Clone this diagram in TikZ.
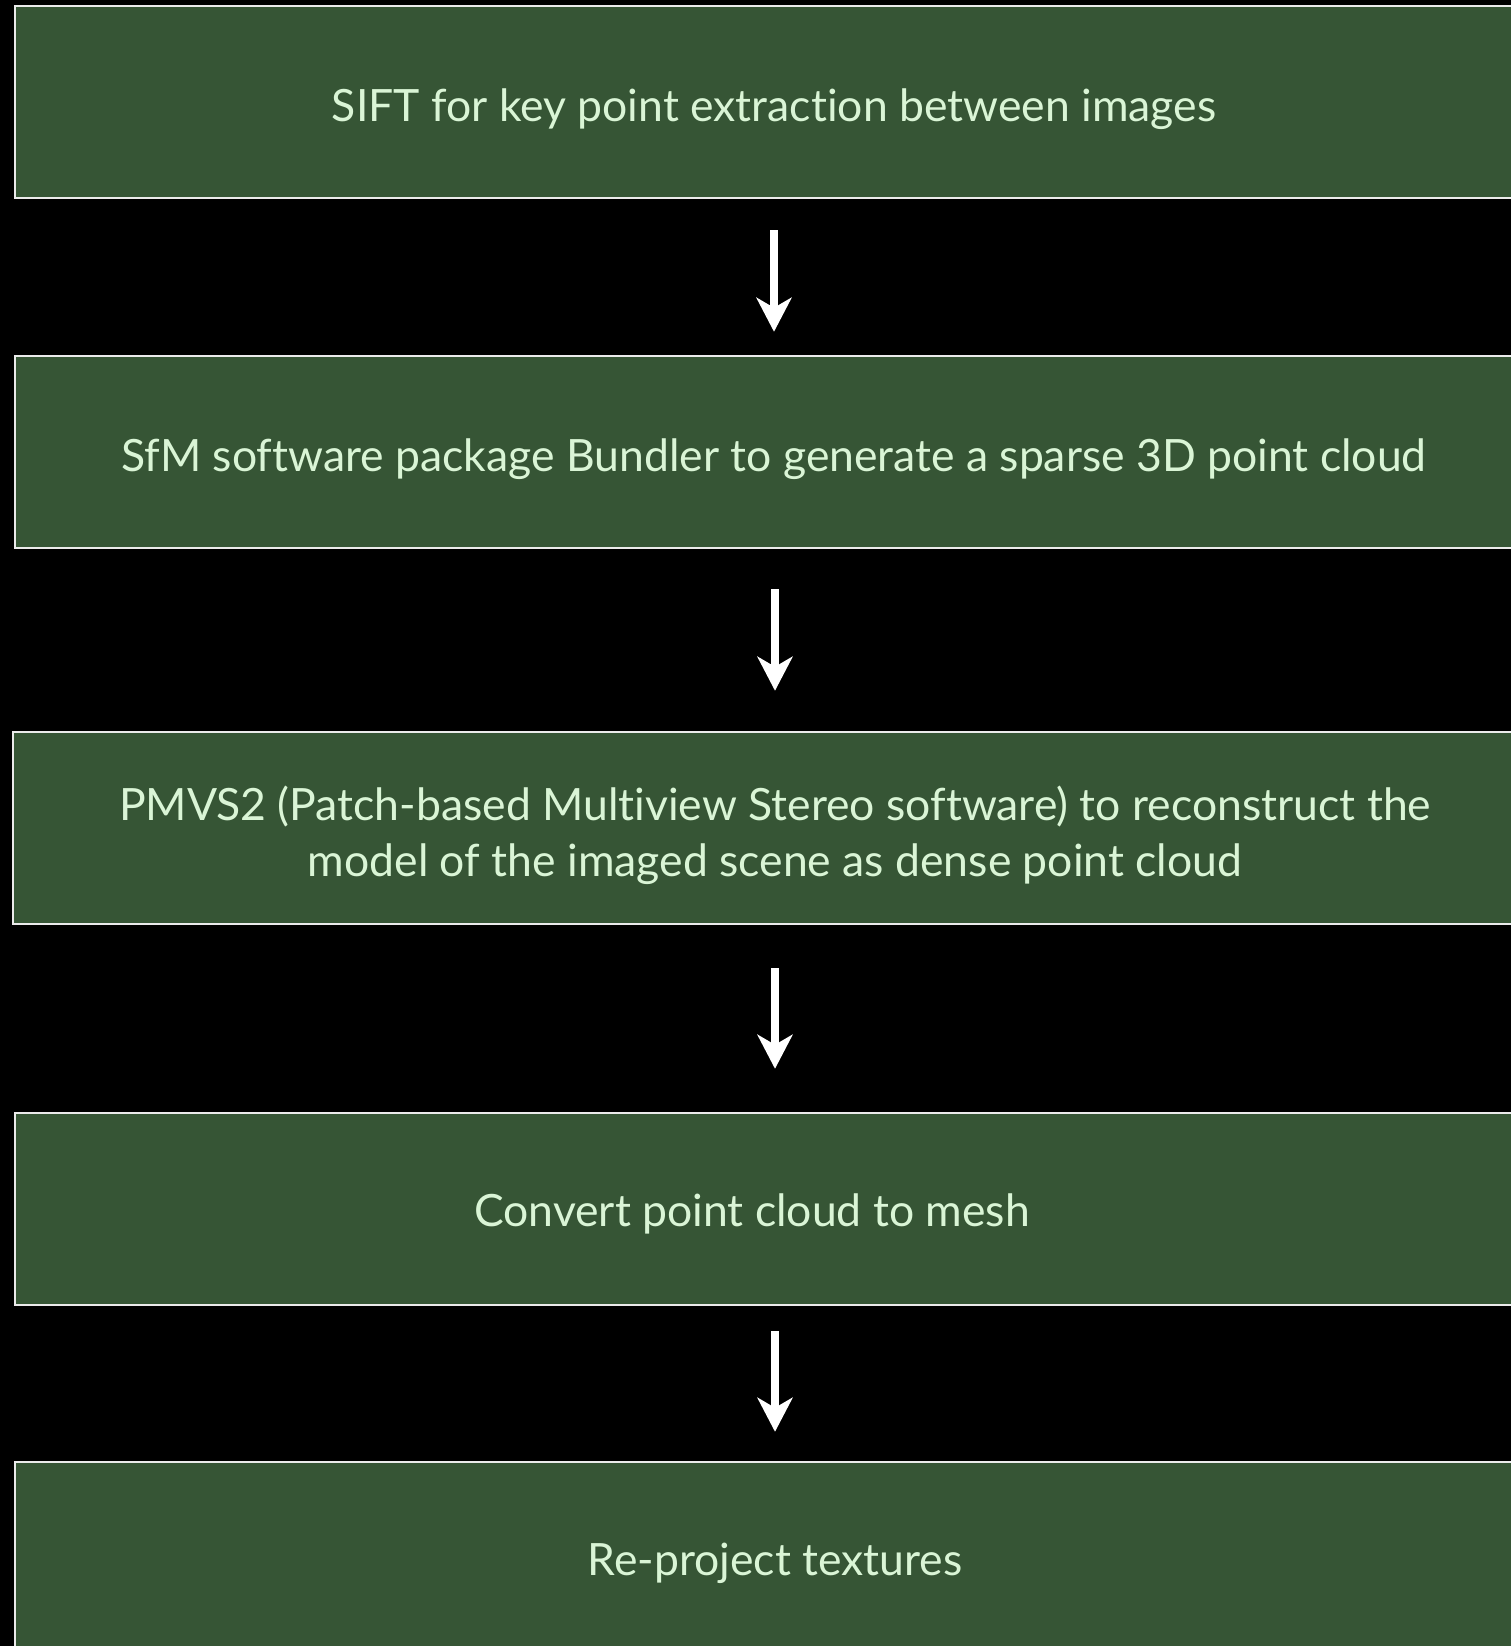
\documentclass[tikz,border=0pt]{standalone}
\usepackage{fontspec}
\setmainfont[Ligatures=NoCommon]{Lato}
\usetikzlibrary{arrows.meta}
\definecolor{boxgreen}{RGB}{54,85,53}
\definecolor{txtgreen}{RGB}{218,245,214}
\definecolor{edgewhite}{RGB}{235,235,235}
\tikzset{
  stepbox/.style={rectangle, draw=edgewhite, line width=2.5pt, fill=boxgreen,
    minimum width=1526pt, minimum height=192pt, inner sep=0pt},
  steptext/.style={text=txtgreen, font=\fontsize{44.5}{56}\selectfont, align=center, inner sep=0pt},
  flow/.style={draw=white, line width=8pt, -{Stealth[width=35pt,length=34pt,inset=10pt]}}
}
\begin{document}
\begin{tikzpicture}[x=1pt,y=-1pt]
\useasboundingbox (0,0) rectangle (1511,1646);
\clip (0,0) rectangle (1511,1646);
\fill[black] (0,0) rectangle (1511,1646);
\node[stepbox] (b1) at (778,102) {};
\node[stepbox] (b2) at (778,452) {};
\node[stepbox] (b3) at (776,828) {};
\node[stepbox] (b4) at (778,1209) {};
\node[stepbox] (b5) at (778,1558) {};
\node[steptext] (t1) at (774,109) {SIFT for key point extraction between images};
\node[steptext] (t2) at (774,459) {SfM software package Bundler to generate a sparse 3D point cloud};
\node[steptext] (t3) at (775,835) {PMVS2 (Patch-based Multiview Stereo software) to reconstruct the\\model of the imaged scene as dense point cloud};
\node[steptext] (t4) at (752,1214) {Convert point cloud to mesh};
\node[steptext] (t5) at (775,1563) {Re-project textures};
\draw[flow, shorten <=31pt, shorten >=23pt] ([xshift=-4pt]b1.south) -- ([xshift=-4pt]b2.north);
\draw[flow, shorten <=40pt, shorten >=40pt] ([xshift=-3pt]b2.south) -- ([xshift=-1pt]b3.north);
\draw[flow, shorten <=43pt, shorten >=43pt] ([xshift=-1pt]b3.south) -- ([xshift=-3pt]b4.north);
\draw[flow, shorten <=25pt, shorten >=29pt] ([xshift=-3pt]b4.south) -- ([xshift=-3pt]b5.north);
\end{tikzpicture}
\end{document}
